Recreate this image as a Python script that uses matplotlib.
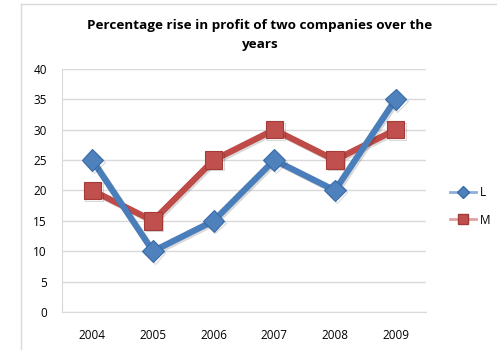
import matplotlib
matplotlib.use("Agg")
from matplotlib import pyplot as plt
from matplotlib import patheffects as pe
from matplotlib.lines import Line2D
import numpy as np

plt.rcParams['font.family'] = ['Open Sans', 'DejaVu Sans']

years = ['2004', '2005', '2006', '2007', '2008', '2009']
company_l = [25, 10, 15, 25, 20, 35]
company_m = [20, 15, 25, 30, 25, 30]
yticks = [0, 5, 10, 15, 20, 25, 30, 35, 40]

blue_line, blue_face, blue_edge = '#4A7EBB', '#4F81BD', '#3A6BA8'
red_line, red_face, red_edge = '#BE4B48', '#C0504D', '#A33C39'
grid_col = '#D9D9D9'

fig = plt.figure(figsize=(4.97, 3.5), dpi=100)
ax = fig.add_axes([0.1247, 0.1086, 0.7323, 0.6943])

x = np.arange(len(years))
shadow = [pe.SimpleLineShadow(offset=(1.2, -1.2), alpha=0.15, rho=0.3), pe.Normal()]

ax.plot(x, company_m, color=red_line, lw=4.5, marker='s', ms=12.5,
        mfc=red_face, mec=red_edge, mew=0.8, solid_joinstyle='miter',
        path_effects=shadow, zorder=3)
ax.plot(x, company_l, color=blue_line, lw=4.5, marker='D', ms=11,
        mfc=blue_face, mec=blue_edge, mew=0.8, solid_joinstyle='miter',
        path_effects=shadow, zorder=4)

ax.set_xlim(-0.5, len(years) - 0.5)
ax.set_ylim(0, 40)
ax.set_xticks(x)
ax.set_xticklabels(years, fontsize=8.5)
ax.set_yticks(yticks)
ax.set_yticklabels([str(v) for v in yticks], fontsize=8.5)
ax.tick_params(axis='y', length=0, pad=11)
ax.tick_params(axis='x', length=0, pad=12)
ax.yaxis.grid(True, color=grid_col, lw=1)
ax.set_axisbelow(True)
for side in ['top', 'right']:
    ax.spines[side].set_visible(False)
ax.spines['left'].set_color(grid_col)
ax.spines['bottom'].set_color(grid_col)

fig.text(0.523, 0.9, 'Percentage rise in profit of two companies over the\nyears',
         ha='center', va='center', fontsize=9.7, fontweight='bold',
         linespacing=1.65)

handles = [
    Line2D([], [], color='#8DB0DA', lw=2, marker='D', ms=6, mfc=blue_face, mec=blue_edge),
    Line2D([], [], color='#E0A3A1', lw=2, marker='s', ms=7, mfc=red_face, mec=red_edge),
]
fig.legend(handles, ['L', 'M'], loc='center left', bbox_to_anchor=(0.885, 0.41),
           frameon=False, fontsize=8.5, handlelength=2.2, handletextpad=0.3,
           labelspacing=1.2)

# light frame around the chart area
fig.add_artist(Line2D([0.043, 0.043], [0, 0.988], color=grid_col, lw=1))
fig.add_artist(Line2D([0.043, 1.0], [0.988, 0.988], color=grid_col, lw=1))

fig.savefig('out.png', dpi=100)
